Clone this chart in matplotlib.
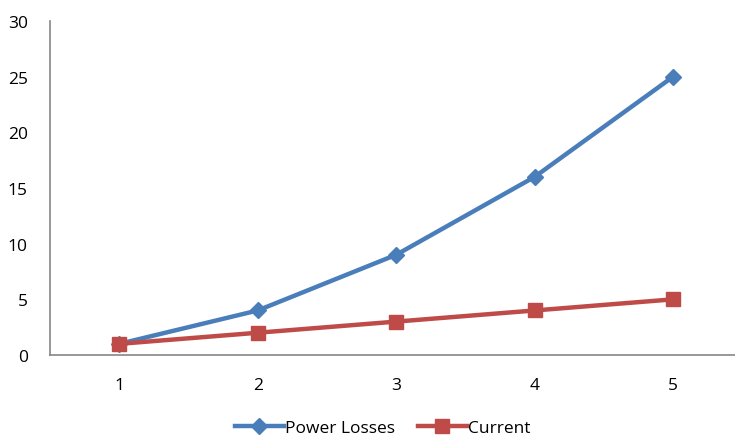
import matplotlib.pyplot as plt

# chart data
categories = [1, 2, 3, 4, 5]
power_losses = [1, 4, 9, 16, 25]
current = [1, 2, 3, 4, 5]

plt.rcParams['font.family'] = ['Open Sans', 'DejaVu Sans']

fig = plt.figure(figsize=(7.35, 4.39), dpi=100)
ax = fig.add_axes([50 / 735, 1 - 356 / 439, 1 - 50 / 735, (356 - 22) / 439])

ax.plot(categories, power_losses, color='#4A7EBB', linewidth=3.2,
        marker='D', markersize=8, label='Power Losses', zorder=3)
ax.plot(categories, current, color='#BE4B48', linewidth=3.2,
        marker='s', markersize=10, label='Current', zorder=4)

ax.set_ylim(0, 30)
ax.set_yticks(range(0, 31, 5))
ax.set_xlim(0.5, 5.447)
ax.set_xticks(categories)

for side in ['top', 'right']:
    ax.spines[side].set_visible(False)
for side in ['left', 'bottom']:
    ax.spines[side].set_color('#868686')
    ax.spines[side].set_linewidth(1.2)

ax.tick_params(axis='both', length=0, labelsize=12.5, colors='#000000')
ax.tick_params(axis='y', pad=16)
ax.tick_params(axis='x', pad=16)

# legend sits below the axis, centred on the labels
ax.legend(loc='center', bbox_to_anchor=(0.486, -0.218), ncol=2,
          frameon=False, fontsize=12.5, handlelength=2.8, columnspacing=1.3,
          handletextpad=0.1, borderpad=0)

fig.savefig('out.png', dpi=100)
